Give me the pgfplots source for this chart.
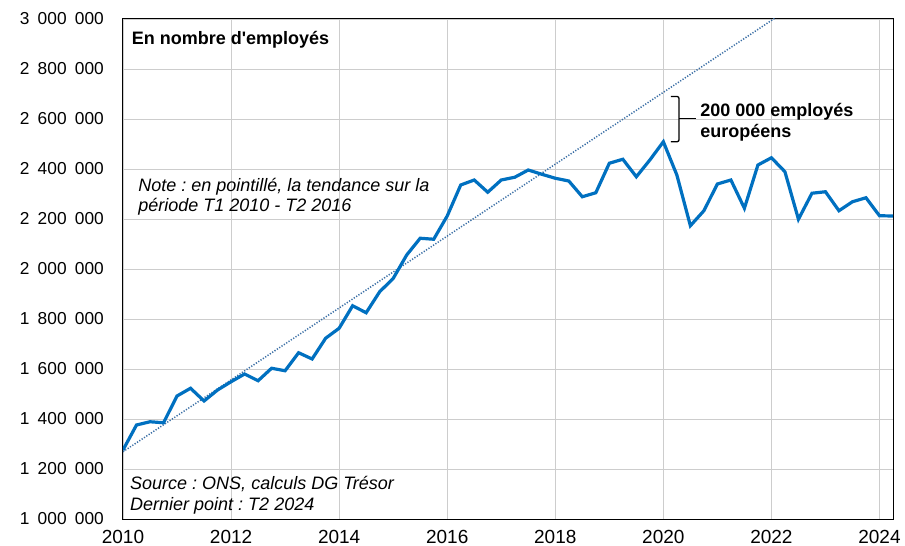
\documentclass[border=0pt]{standalone}
\usepackage{fontspec}
\setmainfont{Liberation Sans}
\usepackage{pgfplots}
\pgfplotsset{compat=1.18}
\usetikzlibrary{calc}
\definecolor{serie}{HTML}{0070C0}
\definecolor{tend}{HTML}{3A6EA5}
\definecolor{grille}{HTML}{CDCDCD}
\newcommand{\esp}{\hspace{0.48em}}
\newcommand{\txt}{\fontsize{18bp}{20.5bp}\selectfont}
\frenchspacing

\begin{document}
\begin{tikzpicture}
\begin{axis}[
  name=ax,
  scale only axis,
  width=770bp,
  height=500bp,
  xmin=2010, xmax=2024.25,
  ymin=1000000, ymax=3000000,
  xtick={2010,2012,...,2024},
  xticklabels={2010,2012,2014,2016,2018,2020,2022,2024},
  ytick={1000000,1200000,...,3000000},
  yticklabels={1\esp000\esp000,1\esp200\esp000,1\esp400\esp000,1\esp600\esp000,
    1\esp800\esp000,2\esp000\esp000,2\esp200\esp000,2\esp400\esp000,
    2\esp600\esp000,2\esp800\esp000,3\esp000\esp000},
  scaled y ticks=false,
  major tick length=0pt,
  grid=major,
  major grid style={draw=grille, line width=0.9bp},
  axis line style={draw=black, line width=1bp},
  yticklabel style={font=\fontsize{17.3bp}{18bp}\selectfont, inner sep=0pt, xshift=-19bp},
  xticklabel style={font=\fontsize{19bp}{20bp}\selectfont, inner sep=0pt, yshift=-11bp},
]
% tendance T1 2010 - T2 2016
\addplot[tend, line width=1.5bp, dash pattern=on 1.2bp off 1.6bp] coordinates {
  (2010,1269000) (2024.25,3317700)
};
% effectifs
\addplot[serie, line width=3.2bp, line join=miter] coordinates {
  (2010.00,1276000) (2010.25,1376000) (2010.50,1389000) (2010.75,1385000)
  (2011.00,1492000) (2011.25,1523000) (2011.50,1472000) (2011.75,1516000)
  (2012.00,1549000) (2012.25,1580000) (2012.50,1553000) (2012.75,1603000)
  (2013.00,1593000) (2013.25,1665000) (2013.50,1640000) (2013.75,1723000)
  (2014.00,1763000) (2014.25,1853000) (2014.50,1825000) (2014.75,1909000)
  (2015.00,1962000) (2015.25,2056000) (2015.50,2123000) (2015.75,2119000)
  (2016.00,2212000) (2016.25,2336000) (2016.50,2356000) (2016.75,2307000)
  (2017.00,2356000) (2017.25,2367000) (2017.50,2396000) (2017.75,2379000)
  (2018.00,2363000) (2018.25,2352000) (2018.50,2289000) (2018.75,2305000)
  (2019.00,2423000) (2019.25,2439000) (2019.50,2369000) (2019.75,2436000)
  (2020.00,2509000) (2020.25,2376000) (2020.50,2173000) (2020.75,2233000)
  (2021.00,2340000) (2021.25,2356000) (2021.50,2243000) (2021.75,2416000)
  (2022.00,2445000) (2022.25,2389000) (2022.50,2199000) (2022.75,2303000)
  (2023.00,2309000) (2023.25,2233000) (2023.50,2269000) (2023.75,2285000)
  (2024.00,2213000) (2024.25,2212000)
};
% accolade
\draw[black, line width=1.3bp, rounded corners=2bp]
  (axis cs:2020.14,2690000) -- (axis cs:2020.29,2690000)
  -- (axis cs:2020.29,2509000) -- (axis cs:2020.14,2509000);
\draw[black, line width=1.3bp] (axis cs:2020.29,2601000) -- (axis cs:2020.60,2601000);
\node[anchor=west, inner sep=0pt, align=left, font=\txt\bfseries]
  at (axis cs:2020.68,2586000) {200 000 employés\\européens};
\node[anchor=west, inner sep=0pt, font=\txt\bfseries]
  at (axis cs:2010.16,2916000) {En nombre d\textquotesingle employés};
\node[anchor=west, inner sep=0pt, align=left, font=\txt\itshape]
  at (axis cs:2010.28,2289000) {Note : en pointillé, la tendance sur la\\période T1 2010 - T2 2016};
\node[anchor=west, inner sep=0pt, align=left, font=\txt\itshape]
  at (axis cs:2010.13,1096000) {Source : ONS, calculs DG Trésor\\Dernier point : T2 2024};
\end{axis}
\pgfresetboundingbox
\path[use as bounding box] ($(ax.south west)+(-123bp,-27bp)$) rectangle ++(905bp,546bp);
\end{tikzpicture}
\end{document}
